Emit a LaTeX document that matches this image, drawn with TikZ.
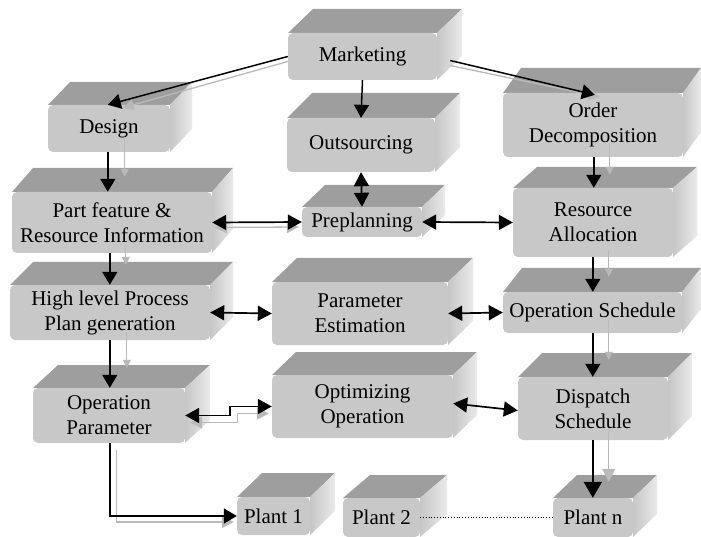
\documentclass[tikz,border=0pt]{standalone}
\usepackage{fontspec}
\setmainfont{Liberation Serif}
\usetikzlibrary{arrows.meta,calc}
\definecolor{frontc}{RGB}{200,200,200}
\definecolor{topc}{RGB}{158,158,158}
\definecolor{sidel}{RGB}{198,198,198}
\definecolor{sider}{RGB}{234,234,234}
\definecolor{shadowc}{RGB}{185,185,185}
% name, x1, y1, x2, y2, dx, dy, text
\newcommand{\cub}[8]{%
  \fill[topc] (#2,#3) -- (#2+#6,#3-#7) -- (#4+#6,#3-#7) -- (#4,#3) -- cycle;
  \shade[left color=sidel, right color=sider] (#4,#3) -- (#4+#6,#3-#7) -- (#4+#6,#5-#7) -- (#4,#5) -- cycle;
  \fill[frontc, rounded corners=5pt] (#2,#3) rectangle (#4,#5);
  \node[boxtext, minimum width={(#4-#2)*1pt}, minimum height={(#5-#3)*1pt}] (#1) at ({(#2+#4)/2},{(#3+#5)/2}) {#8};
}
\begin{document}
\begin{tikzpicture}[x=1pt,y=-1pt,
  boxtext/.style={inner sep=0pt, align=center, font=\fontsize{21}{25}\selectfont, text=black},
  arr/.style={line width=1.5pt, -{Triangle[length=13pt,width=15pt]}},
  bigarr/.style={line width=2.2pt, -{Triangle[length=16pt,width=18pt]}},
  darr/.style={line width=1.7pt, {Triangle[length=14pt,width=15pt]}-{Triangle[length=14pt,width=15pt]}},
  garr/.style={shadowc, line width=1pt, -{Triangle[length=8pt,width=8pt]}},
  gdarr/.style={shadowc, line width=1.3pt, {Triangle[length=12pt,width=12pt]}-{Triangle[length=12pt,width=12pt]}}]
\useasboundingbox (0,0) rectangle (701,537);

\cub{mkt}{288}{33}{437}{80}{25}{24}{Marketing}
\cub{design}{48}{105}{170}{152}{22}{23}{Design}
\cub{outs}{287}{118}{435}{172}{25}{25}{Outsourcing}
\cub{od}{503}{93}{683}{157}{18}{25}{Order\\Decomposition}
\cub{part}{12}{192}{212}{253}{21}{24}{Part feature \&\\Resource Information}
\cub{prep}{302}{207}{422}{237}{23}{22}{Preplanning}
\cub{ra}{513}{188}{673}{257}{24}{21}{Resource\\Allocation}
\cub{high}{10}{285}{210}{340}{23}{23}{High level Process\\Plan generation}
\cub{parest}{272}{282}{448}{345}{25}{24}{Parameter\\Estimation}
\cub{os}{503}{292}{682}{333}{19}{24}{Operation Schedule}
\cub{oppar}{33}{388}{185}{443}{25}{23}{Operation\\Parameter}
\cub{opt}{272}{375}{453}{438}{24}{23}{Optimizing\\Operation}
\cub{ds}{518}{377}{668}{440}{24}{24}{Dispatch\\Schedule}
\cub{plantA}{237}{497}{310}{535}{25}{24}{Plant 1}
\cub{plantB}{343}{498}{420}{537}{27}{23}{Plant 2}
\cub{plantN}{553}{498}{633}{537}{24}{23}{Plant n}

% gray shadow connectors
\draw[shadowc, line width=1.3pt, -{Triangle[length=11pt,width=11pt]}] ($(mkt.west)+(0,5)$) -- ($(design.north west)+(75,3)$);
\draw[shadowc, line width=1.3pt, -{Triangle[length=11pt,width=11pt]}] ($(mkt.east)+(13,9)$) -- ($(od.north west)+(97,4)$);
\draw[garr] ($(design.south west)+(77,-15)$) -- ($(part.north west)+(113,-15)$);
\draw[garr] ($(part.south west)+(114,-8)$) -- ($(high.north west)+(116,-20)$);
\draw[garr] ($(high.south west)+(117,-8)$) -- ($(oppar.north west)+(94,-20)$);
\draw[gdarr] ($(part.east)+(3,5)$) -- ($(prep.west)+(-3,5)$);
\draw[gdarr] ($(oppar.east)+(5,7)$) -- ++(47,0) |- ($(opt.west)+(-3,7)$);
\draw[shadowc, line width=1.3pt, -{Triangle[length=12pt,width=12pt]}]
  ($(oppar.south west)+(84,7)$) |- ($(plantA.west)+(-3,6)$);
\draw[garr] ($(od.south west)+(107,-14)$) -- ($(ra.north west)+(97,-13)$);
\draw[garr] ($(ra.south west)+(96,-7)$) -- ($(os.north west)+(106,-15)$);
\draw[garr] ($(os.south west)+(106,-13)$) -- ($(ds.north west)+(91,-17)$);
\draw[shadowc, line width=1.2pt, -{Triangle[length=13pt,width=13pt]}] ($(ds.south west)+(91,-10)$) -- ($(plantN.north west)+(56,-16)$);

% black connectors
\draw[arr] (mkt.west) -- ($(design.north west)+(60,0)$);
\draw[arr] ($(mkt.east)+(13,4)$) -- ($(od.north west)+(92,2)$);
\draw[arr] (mkt.south) -- (outs.north);
\draw[darr] (outs.south) -- (prep.north);
\draw[arr] ($(design.south west)+(60,0)$) -- ($(part.north west)+(96,0)$);
\draw[arr] ($(part.south west)+(98,0)$) -- ($(high.north west)+(100,0)$);
\draw[arr] ($(high.south west)+(100,0)$) -- ($(oppar.north west)+(77,0)$);
\draw[arr] ($(oppar.south west)+(77,0)$) |- (plantA.west);
\draw[darr] (part.east) -- (prep.west);
\draw[darr] (prep.east) -- (ra.west);
\draw[darr] (high.east) -- (parest.west);
\draw[darr] (parest.east) -- (os.west);
\draw[darr] (oppar.east) -- ++(45,0) |- (opt.west);
\draw[darr] ($(opt.east)+(0,-3)$) -- ($(ds.west)+(0,2)$);
\draw[arr] ($(od.south west)+(91,0)$) -- ($(ra.north west)+(81,0)$);
\draw[arr] ($(ra.south west)+(80,0)$) -- ($(os.north west)+(90,0)$);
\draw[arr] ($(os.south west)+(90,0)$) -- ($(ds.north west)+(75,0)$);
\draw[bigarr] ($(ds.south west)+(75,0)$) -- ($(plantN.north west)+(40,0)$);
\draw[dotted, line width=0.8pt] (plantB.east) -- (plantN.west);
\end{tikzpicture}
\end{document}
